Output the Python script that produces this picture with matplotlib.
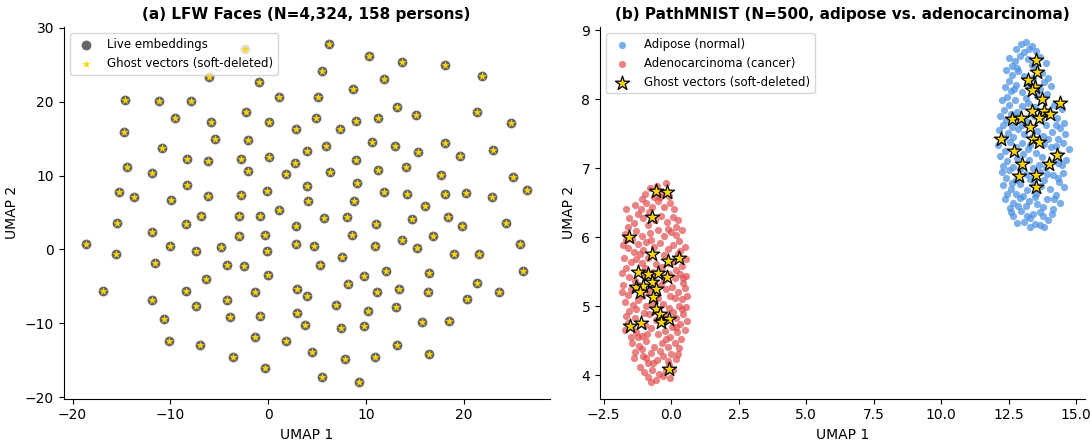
import matplotlib
matplotlib.use("Agg")
import matplotlib.pyplot as plt
from matplotlib.ticker import MultipleLocator

# ---------------- Panel (a): LFW faces ----------------
lfw_x = [-2.35, -6.1, -0.92, -14.6, -11.2, -7.9, 1.1, -9.5, -5.8, -2.3, 0.1, 2.8, -14.7, -10.9, -5.4, -2.1,
         -8.3, -6.2, -2.8, 0.13, 2.7, -14.4, -11.9, -2.1, 1.85, -8.3, -15.3, -13.7, -9.9, -6.2, -2.76, -0.13,
         1.1, -6.9, -3.0, -0.8, 4.1, -15.5, -8.4, -11.9, -3.0, -0.3, 2.8, -18.65, -10.0, -7.4, -4.8, -0.17,
         2.8, -15.55, -11.6, -4.2, -2.5, -6.4, -0.03, 2.9, 4.0, -16.9, -11.9, -8.4, -4.2, -1.3, -7.4, -10.7,
         -3.9, -0.8, 2.9, 3.8, -10.1, -7.0, -1.4, 1.8, -3.55, -0.3, 4.5, 8.8, 16.0, 5.7, 8.1, 11.0, 14.7,
         18.4, 19.85, 24.3, 8.6, 13.7, 16.85, 4.7, 10.9, 15.2, 19.0, 21.55, 25.75, 7.5, 5.3, 9.8, 12.0, 16.4,
         26.05, 8.15, 11.1, 13.4, 16.3, 21.3, 23.6, 6.9, 10.2, 13.1, 20.3, 7.4, 9.75, 15.75, 18.5, 13.2, 7.9,
         10.9, 16.4, 5.55, 9.3, 6.25, 10.3, 13.7, 18.1, 5.5, 11.8, 21.9, 8.7, 5.1, 13.2, 15.1, 21.3, 4.9, 8.97,
         11.25, 24.8, 7.3, 10.6, 12.95, 15.35, 18.05, 19.6, 23.0, 3.95, 5.9, 6.3, 9.0, 11.25, 14.05, 17.7,
         25.0, 26.5, 4.0, 9.1, 11.85, 14.15, 18.05, 20.2, 22.85]
lfw_y = [27.2, 23.4, 22.7, 20.2, 20.1, 20.1, 20.6, 17.8, 17.2, 18.6, 17.2, 16.3, 15.9, 13.8, 15.0, 14.8,
         12.3, 12.0, 12.3, 12.5, 11.7, 11.1, 10.4, 10.6, 10.2, 8.7, 7.8, 7.1, 6.65, 7.2, 7.4, 7.9,
         5.4, 4.5, 4.5, 4.5, 6.5, 3.6, 3.45, 2.35, 1.8, 2.0, 3.2, 0.8, 0.45, -0.2, 0.3, -0.2,
         0.8, -0.6, -1.9, -2.1, -2.3, -4.05, -3.4, -5.3, -6.3, -5.6, -6.8, -5.6, -6.9, -5.8, -7.6, -9.4,
         -9.1, -9.0, -8.6, -10.2, -12.4, -12.9, -11.8, -12.4, -14.5, -16.0, -13.9, 6.5, 5.9, 4.2, 4.4, 3.4, 4.1,
         4.4, 3.2, 3.6, 1.9, 1.3, 1.8, 0.45, 0.4, 0.15, -0.6, -0.6, 0.8, -1.0, -2.15, -3.6, -2.9, -3.2,
         -2.9, -4.7, -5.8, -5.4, -5.8, -4.55, -5.8, -7.5, -8.4, -7.8, -6.7, -10.6, -10.4, -9.8, -9.7, -12.95, -14.8,
         -14.6, -14.2, -17.3, -17.9, 27.8, 26.2, 25.4, 25.0, 24.2, 23.05, 23.5, 21.7, 20.6, 19.3, 18.2, 18.6, 17.85, 17.4,
         17.75, 17.1, 16.3, 14.5, 14.0, 13.15, 14.4, 12.6, 13.5, 13.4, 14.05, 10.5, 12.1, 10.75, 11.1, 10.1,
         9.8, 8.0, 8.6, 9.0, 7.8, 7.55, 7.55, 7.7, 7.06]
# every LFW point also carries a soft-deleted ghost vector at the same position
lfw_ghost_x = list(lfw_x)
lfw_ghost_y = list(lfw_y)

# ---------------- Panel (b): PathMNIST ----------------
adeno_x = [-0.97, -0.77, -0.53, -0.33, -0.09, -0.64, -0.20, -1.06,
           -1.32, -1.12, -0.91, -0.71, -0.47, -0.27, -0.03, 0.11, -0.80, -1.23,
           -1.56, -1.37, -1.03, -0.58, -0.38, -0.15, 0.07, 0.26, -0.85, -1.61, -0.12,
           -1.72, -1.30, -1.08, -0.77, -0.49, -0.27, 0.00, 0.20, 0.41, -1.45, 0.31, -0.93,
           -1.79, -1.59, -1.23, -1.03, -0.62, -0.40, -0.13, 0.09, 0.50, -1.37, 0.24, -0.27,
           -1.74, -1.50, -1.28, -1.06, -0.84, -0.56, 0.04, 0.55, 0.39, -1.65, -0.35, 0.17,
           -1.81, -1.54, -0.97, -0.66, -0.06, 0.15, 0.35, 0.57, -1.35, -0.27, 0.46,
           -1.76, -1.47, -0.86, -0.38, -0.18, 0.02, 0.26, 0.53, -1.61, -1.06, 0.13, 0.39,
           -1.72, -1.41, -1.21, -0.91, -0.71, -0.29, -0.09, 0.29, 0.55, -1.54, 0.09, -1.01,
           -1.67, -1.32, -0.82, -0.57, -0.18, 0.17, 0.44, 0.32, -1.59, -0.97, 0.02,
           -1.70, -1.28, -0.75, -0.49, -0.22, 0.22, 0.50, -1.50, -1.06, -0.05, 0.38,
           -1.45, -1.19, -0.91, -0.62, -0.35, -0.12, 0.13, 0.29, -1.32, -0.75, 0.00,
           -1.37, -1.03, -0.53, -0.29, 0.17, -0.84, -0.06, -1.15, 0.06,
           -1.00, -0.71, -0.44, -0.18, -0.84, -0.57, -0.31, -0.03, -0.75,
           -1.65, -0.40, 0.17, -1.15, -0.73, 0.32, -1.67, -0.09, -0.97, 0.44,
           -1.19, -0.05, -0.49, -1.81, 0.61, -1.28, -0.44, 0.39, -1.45, 0.17,
           -0.88, 0.59, -1.06, -0.18, -0.66, 0.26, -1.23, -0.40, -0.13, -0.93]
adeno_y = [6.62, 6.71, 6.74, 6.66, 6.60, 6.58, 6.78, 6.55,
           6.47, 6.41, 6.50, 6.44, 6.52, 6.43, 6.49, 6.40, 6.36, 6.33,
           6.28, 6.21, 6.27, 6.25, 6.31, 6.22, 6.29, 6.24, 6.18, 6.14, 6.12,
           6.05, 6.09, 6.02, 6.06, 6.10, 6.01, 6.07, 6.03, 6.10, 5.97, 5.94, 5.93,
           5.88, 5.84, 5.90, 5.81, 5.86, 5.92, 5.83, 5.89, 5.85, 5.78, 5.76, 5.74,
           5.70, 5.64, 5.68, 5.62, 5.69, 5.61, 5.64, 5.68, 5.58, 5.55, 5.57, 5.52,
           5.48, 5.42, 5.44, 5.50, 5.46, 5.40, 5.47, 5.43, 5.36, 5.38, 5.33,
           5.31, 5.25, 5.22, 5.30, 5.24, 5.28, 5.21, 5.26, 5.16, 5.14, 5.12, 5.10,
           5.06, 5.02, 5.09, 5.00, 5.05, 5.03, 4.97, 5.00, 4.98, 4.93, 4.92, 4.90,
           4.86, 4.83, 4.88, 4.80, 4.85, 4.82, 4.88, 4.74, 4.76, 4.72, 4.70,
           4.66, 4.62, 4.68, 4.60, 4.64, 4.63, 4.66, 4.55, 4.57, 4.55, 4.52,
           4.47, 4.42, 4.49, 4.41, 4.46, 4.40, 4.47, 4.39, 4.33, 4.32, 4.31,
           4.24, 4.27, 4.22, 4.28, 4.23, 4.17, 4.15, 4.12, 4.08,
           4.05, 4.08, 4.02, 4.06, 3.97, 3.93, 3.98, 3.96, 3.90,
           6.40, 6.58, 6.15, 5.75, 5.95, 5.80, 5.95, 5.62, 5.55, 5.40,
           5.30, 5.15, 5.12, 5.20, 5.15, 4.95, 4.92, 4.95, 4.70, 4.70,
           4.60, 4.78, 4.38, 4.52, 4.18, 4.30, 4.55, 4.35, 4.20, 4.25]

adipose_x = [12.95, 13.15, 13.37, 12.77, 13.51, 13.07,
             12.50, 12.72, 12.91, 13.22, 13.68, 13.89, 12.62, 13.35,
             12.39, 12.63, 12.85, 13.08, 13.72, 13.97, 12.53, 13.83, 13.17,
             12.35, 12.59, 12.79, 13.00, 13.66, 13.93, 14.08, 12.46, 13.13, 13.57,
             12.24, 12.50, 12.72, 12.98, 13.22, 13.48, 14.19, 14.46, 12.33, 12.83, 14.06,
             12.18, 12.41, 12.77, 13.13, 13.44, 14.28, 14.55, 12.30, 12.63, 13.90, 14.41,
             12.15, 12.48, 12.85, 13.08, 13.57, 13.79, 14.11, 14.59, 12.33, 13.35, 14.33,
             12.12, 12.55, 12.77, 13.00, 13.22, 13.83, 14.06, 14.52, 14.72, 12.37, 13.52, 14.37,
             12.19, 12.46, 12.81, 13.26, 13.74, 14.02, 14.63, 12.28, 12.65, 13.39, 13.89, 14.46,
             12.24, 12.50, 13.13, 13.66, 14.15, 14.50, 12.39, 12.77, 13.30, 13.83, 14.33,
             12.28, 12.59, 12.91, 13.17, 13.70, 14.02, 14.55, 12.46, 13.04, 13.52, 14.24,
             12.37, 12.68, 12.93, 13.26, 13.57, 13.93, 14.41, 12.55, 13.79, 14.15,
             12.59, 12.95, 13.39, 13.66, 14.11, 12.67, 13.30, 13.97,
             12.81, 13.30, 13.66, 13.08, 13.48, 13.83,
             13.26, 12.83, 13.52, 13.39, 12.70, 13.79, 12.59, 13.70, 13.00, 14.24,
             13.97, 12.68, 13.30, 14.24, 12.26, 13.04, 14.33, 13.61, 12.91, 13.93,
             12.63, 13.44, 14.37, 13.13, 13.48, 12.77, 14.19, 13.17, 13.79, 12.85]
adipose_y = [8.80, 8.83, 8.77, 8.72, 8.70, 8.68,
             8.60, 8.55, 8.62, 8.58, 8.61, 8.52, 8.48, 8.50,
             8.42, 8.35, 8.41, 8.33, 8.38, 8.31, 8.26, 8.24, 8.22,
             8.18, 8.12, 8.20, 8.10, 8.15, 8.08, 8.19, 8.03, 8.02, 8.05,
             7.98, 7.92, 7.99, 7.90, 7.95, 7.88, 7.92, 7.85, 7.84, 7.81, 7.80,
             7.76, 7.70, 7.74, 7.68, 7.75, 7.72, 7.66, 7.62, 7.60, 7.63, 7.58,
             7.55, 7.51, 7.57, 7.49, 7.54, 7.47, 7.52, 7.50, 7.44, 7.45, 7.42,
             7.33, 7.38, 7.30, 7.36, 7.28, 7.35, 7.30, 7.37, 7.28, 7.24, 7.22, 7.20,
             7.17, 7.10, 7.14, 7.12, 7.16, 7.09, 7.12, 7.03, 7.02, 7.00, 7.01, 7.04,
             6.94, 6.97, 6.92, 6.95, 6.90, 6.93, 6.85, 6.83, 6.84, 6.82, 6.86,
             6.75, 6.70, 6.77, 6.68, 6.74, 6.70, 6.73, 6.62, 6.60, 6.63, 6.61,
             6.55, 6.50, 6.56, 6.52, 6.48, 6.55, 6.50, 6.42, 6.43, 6.41,
             6.36, 6.38, 6.33, 6.37, 6.34, 6.30, 6.28, 6.25,
             6.20, 6.14, 6.17, 6.22, 6.19, 6.15,
             8.72, 8.45, 8.44, 8.30, 8.15, 7.98, 7.78, 7.70, 7.62, 7.62,
             7.42, 7.45, 7.34, 7.32, 7.40, 7.20, 7.08, 7.05, 6.98, 6.92,
             6.78, 6.80, 6.80, 6.45, 6.58, 6.62, 6.55, 6.30, 6.30, 6.45]

ghost_adeno_x = [-0.56, -0.16, -0.71, -1.54, -0.70, -0.12, 0.29, -1.21, -0.84, -0.47, -0.16, -0.69,
                 -1.31, -1.03, -0.56, -1.15, -0.68, -0.56, -0.40, -0.09, -0.37, -1.51, -1.11, -0.07]
ghost_adeno_y = [6.67, 6.65, 6.29, 6.00, 5.75, 5.66, 5.70, 5.50, 5.47, 5.48, 5.42, 5.35,
                 5.27, 5.29, 5.24, 5.20, 5.13, 4.95, 4.88, 4.81, 4.77, 4.71, 4.75, 4.09]
ghost_adipose_x = [13.51, 13.54, 13.23, 13.48, 13.36, 13.75, 14.41, 13.36, 13.83, 14.04, 13.64, 12.64,
                   12.95, 13.30, 12.22, 13.42, 13.63, 12.71, 14.31, 13.01, 14.00, 12.89, 13.51, 13.52]
ghost_adipose_y = [8.56, 8.39, 8.27, 8.18, 8.13, 8.00, 7.95, 7.82, 7.82, 7.79, 7.72, 7.71,
                   7.72, 7.60, 7.42, 7.42, 7.38, 7.25, 7.19, 7.06, 7.06, 6.89, 6.90, 6.73]

W, H = 1090, 443
fig = plt.figure(figsize=(W / 100, H / 100), dpi=100)
plt.rcParams['font.family'] = ['DejaVu Sans']

ax1 = fig.add_axes([63.7 / W, 1 - 398.5 / H, 485.8 / W, 371.2 / H])
ax2 = fig.add_axes([600 / W, 1 - 398.5 / H, 485 / W, 371.2 / H])

ax1.scatter(lfw_x, lfw_y, s=50, c='#666666', linewidths=0, label='Live embeddings', zorder=2)
ax1.scatter(lfw_ghost_x, lfw_ghost_y, s=38, marker='*', c='#FFD700', linewidths=0,
            label='Ghost vectors (soft-deleted)', zorder=6)
ax1.set_title('(a) LFW Faces (N=4,324, 158 persons)', fontsize=11, fontweight='bold')
ax1.set_xlabel('UMAP 1', fontsize=10)
ax1.set_ylabel('UMAP 2', fontsize=10)
ax1.legend(loc='upper left', fontsize=8.5)

ax2.scatter(adipose_x, adipose_y, s=27, c='#4A90E2', alpha=0.72, linewidths=0,
            label='Adipose (normal)', zorder=2)
ax2.scatter(adeno_x, adeno_y, s=27, c='#E04848', alpha=0.68, linewidths=0,
            label='Adenocarcinoma (cancer)', zorder=2)
ax2.scatter(ghost_adipose_x + ghost_adeno_x, ghost_adipose_y + ghost_adeno_y, s=115, marker='*',
            c='#FFD700', edgecolors='black', linewidths=0.9,
            label='Ghost vectors (soft-deleted)', zorder=3)
ax2.set_xlim(-2.63, 15.33)
ax2.set_ylim(3.66, 9.04)
ax2.xaxis.set_major_locator(MultipleLocator(2.5))
ax2.set_title('(b) PathMNIST (N=500, adipose vs. adenocarcinoma)', fontsize=11, fontweight='bold')
ax2.set_xlabel('UMAP 1', fontsize=10)
ax2.set_ylabel('UMAP 2', fontsize=10)
ax2.legend(loc='upper left', fontsize=8.5)

for ax in (ax1, ax2):
    ax.spines['top'].set_visible(False)
    ax.spines['right'].set_visible(False)
    ax.tick_params(labelsize=10)

fig.savefig('out.png', dpi=100)
